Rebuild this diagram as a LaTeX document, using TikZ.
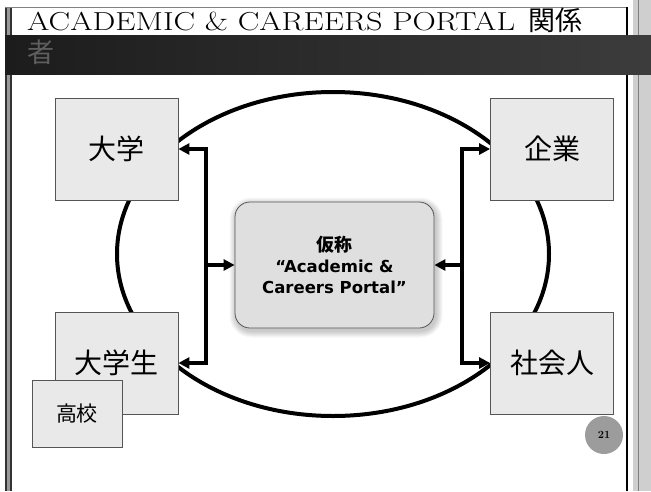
\documentclass[tikz,border=0pt]{standalone}
\usepackage{fontspec}
\newfontfamily\cjk{Noto Sans CJK JP}
\newfontfamily\verd{DejaVu Sans}
\usetikzlibrary{arrows.meta}
\definecolor{boxfill}{HTML}{E9E9E9}
\definecolor{portalfill}{HTML}{DFDFDF}
\definecolor{boxline}{HTML}{555555}
\definecolor{bandL}{HTML}{1C1C1C}
\definecolor{bandR}{HTML}{3C3C3C}
\definecolor{sidegray}{HTML}{CFCFCF}
\definecolor{barsgray}{HTML}{9A9A9A}
\definecolor{pagecirc}{HTML}{9C9C9C}
\definecolor{dimtext}{HTML}{5E5E5E}
\tikzset{
  stakebox/.style={draw=boxline, fill=boxfill, line width=0.8pt,
    minimum width=123pt, minimum height=102pt, inner sep=0pt,
    font=\cjk\fontsize{28}{32}\selectfont},
  smallbox/.style={draw=boxline, fill=boxfill, line width=0.8pt,
    minimum width=90pt, minimum height=67pt, inner sep=0pt,
    font=\cjk\fontsize{21}{24}\selectfont},
  portalbox/.style={draw=boxline, fill=portalfill, line width=0.8pt,
    rounded corners=15pt, minimum width=199pt, minimum height=126pt,
    inner sep=0pt, align=center,
    font=\verd\bfseries\fontsize{16.5}{21}\selectfont},
  conn/.style={line width=3.5pt, line join=miter,
    -{Triangle[length=11pt,width=11pt]}},
  conntwo/.style={line width=3.5pt, line join=miter,
    {Triangle[length=11pt,width=11pt]}-{Triangle[length=11pt,width=11pt]}},
  ring/.style={line width=4pt},
}
\begin{document}
\begin{tikzpicture}[x=1pt,y=-1pt]
\useasboundingbox (0,0) rectangle (651,491);
\fill[white] (0,0) rectangle (651,491);
% right side strip
\fill[sidegray] (633,0) rectangle (651,491);
\draw[line width=1pt, gray] (638,0) -- (638,491);
\draw[line width=2pt, black] (627,7) -- (627,491);
% left bars
\fill[black!80] (5,8) rectangle (7,491);
\fill[barsgray] (7,8) rectangle (10,491);
\fill[black!80] (10,8) rectangle (12,491);
% top line
\draw[line width=1.2pt, gray] (5,7.5) -- (626,7.5);
% dark band
\shade[left color=bandL, right color=bandR] (5,35) rectangle (651,74);
% title
\node[anchor=base west, inner sep=0pt, font=\fontsize{26}{30}\selectfont] (title) at (27,30)
  {\scalebox{1.24}[1]{ACADEMIC \& CAREERS PORTAL}};
\node[anchor=base west, inner sep=0pt, font=\cjk\fontsize{27}{30}\selectfont] (title1b) at (528,30) {関係};
\node[anchor=base west, inner sep=0pt, text=dimtext, font=\cjk\fontsize{27}{30}\selectfont] (title2) at (27,62) {者};
% ring
\draw[ring] (333,254) ellipse [x radius=216, y radius=162];
% portal shadow
\foreach \i in {1,...,7}{
  \fill[black, opacity=0.03, rounded corners=15pt+\i pt]
    (235-\i+1.5, 202-\i+2.5) rectangle (434+\i+1.5, 328+\i+2.5);
}
% nodes
\node[portalbox] (portal) at (334.5,265) {{\cjk\bfseries\fontsize{18}{21}\selectfont 仮称}\\“Academic \&\\Careers Portal”};
\node[stakebox] (daigaku) at (116.5,149) {大学};
\node[stakebox] (kigyo) at (552,149) {企業};
\node[stakebox] (gakusei) at (116.5,363) {大学生};
\node[stakebox] (shakai) at (552,363) {社会人};
\node[smallbox] (koko) at (77,413.5) {高校};
\coordinate (lb) at (206,265);
\coordinate (rb) at (462,265);
% connectors
\draw[conntwo] (daigaku.east) -| (lb) |- (gakusei.east);
\draw[conntwo] (kigyo.west) -| (rb) |- (shakai.west);
\draw[conn] (lb) -- (portal.west);
\draw[conn] (rb) -- (portal.east);
% page number
\node[circle, fill=pagecirc, minimum size=38pt, inner sep=0pt, font=\bfseries\fontsize{11}{13}\selectfont] (page) at (604,435) {21};
\end{tikzpicture}
\end{document}
